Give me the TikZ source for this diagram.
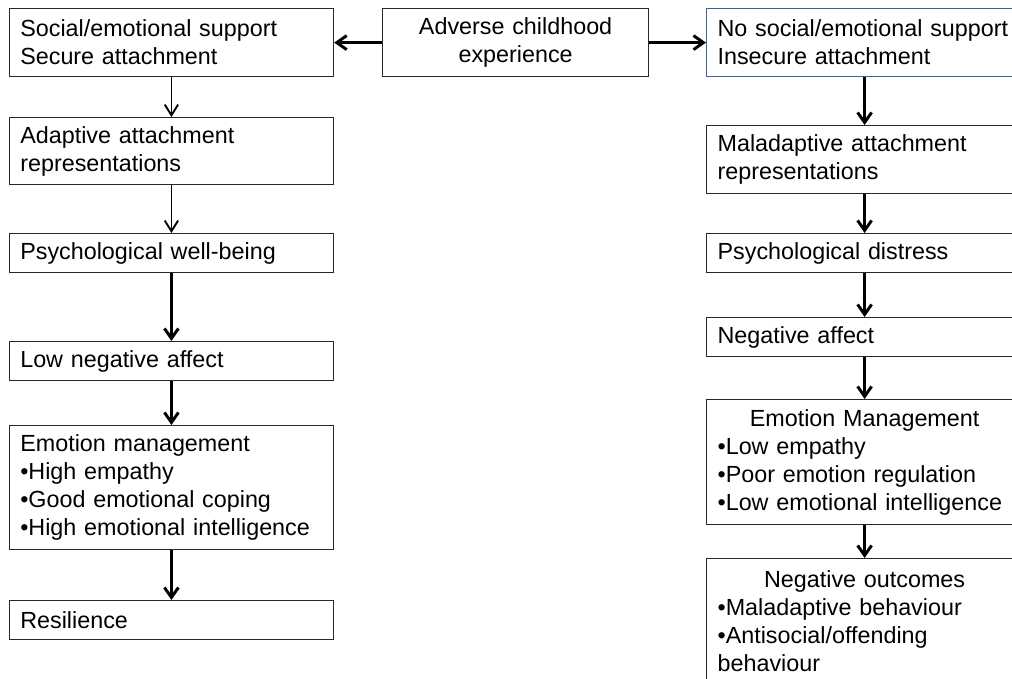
\documentclass[tikz,border=0pt]{standalone}
\usepackage{fontspec}
\setmainfont{Liberation Sans}
\usetikzlibrary{arrows.meta}
\definecolor{boxline}{RGB}{40,40,40}
\definecolor{blueline}{RGB}{60,100,150}
\begin{document}
\begin{tikzpicture}[x=0.75pt,y=-0.75pt,
  box/.style={draw=boxline, line width=0.9pt, inner xsep=8.25pt, inner ysep=0pt,
    font=\fontsize{17.5}{21}\selectfont, align=left, anchor=north west},
  lbox/.style={box, text width=226.7pt},
  rbox/.style={box, text width=220.5pt},
  thinarrow/.style={line width=1.4pt, -{Straight Barb[length=8pt,width=10pt,line width=1.4pt]}},
  thickarrow/.style={line width=2.2pt, -{Straight Barb[length=7.5pt,width=10.5pt,line width=2.2pt]}}
]
\useasboundingbox (0,0) rectangle (1012,678);

% centre: the common cause
\node[box, text width=183pt, align=center, minimum height=51pt] (C) at (382,8)
  {Adverse childhood\\experience};

% left branch
\node[lbox, minimum height=51pt] (L1) at (8.7,8) {Social/emotional support\\Secure attachment};
\node[lbox, minimum height=50.25pt] (L2) at (8.7,117) {Adaptive attachment\\representations};
\node[lbox, minimum height=29.25pt] (L3) at (8.7,233) {Psychological well-being};
\node[lbox, minimum height=29.25pt] (L4) at (8.7,341) {Low negative affect};
\node[lbox, minimum height=93pt] (L5) at (8.7,425)
  {Emotion management\\•High empathy\\•Good emotional coping\\•High emotional intelligence};
\node[lbox, minimum height=29.25pt] (L6) at (8.7,600) {Resilience};

% right branch
\node[rbox, draw=blueline, minimum height=51pt] (R1) at (706,8) {No social/emotional support\\Insecure attachment};
\node[rbox, minimum height=51pt] (R2) at (706,125) {Maladaptive attachment\\representations};
\node[rbox, minimum height=29.25pt] (R3) at (706,233) {Psychological distress};
\node[rbox, minimum height=29.25pt] (R4) at (706,317) {Negative affect};
\node[rbox, minimum height=93.75pt] (R5) at (706,399)
  {\makebox[220.5pt][c]{Emotion Management}\\•Low empathy\\•Poor emotion regulation\\•Low emotional intelligence};
\node[rbox, minimum height=94.5pt] (R6) at (706,558)
  {\makebox[220.5pt][c]{Negative outcomes}\\•Maladaptive behaviour\\•Antisocial/offending\\behaviour};

% connectors
\draw[thickarrow] (C.west) -- (L1.east);
\draw[thickarrow] (C.east) -- (R1.west);

\draw[thinarrow] (L1.south) -- (L2.north);
\draw[thinarrow] (L2.south) -- (L3.north);
\draw[thickarrow] (L3.south) -- (L4.north);
\draw[thickarrow] (L4.south) -- (L5.north);
\draw[thickarrow] (L5.south) -- (L6.north);

\draw[thickarrow] (R1.south) -- (R2.north);
\draw[thickarrow] (R2.south) -- (R3.north);
\draw[thickarrow] (R3.south) -- (R4.north);
\draw[thickarrow] (R4.south) -- (R5.north);
\draw[thickarrow] (R5.south) -- (R6.north);
\end{tikzpicture}
\end{document}
